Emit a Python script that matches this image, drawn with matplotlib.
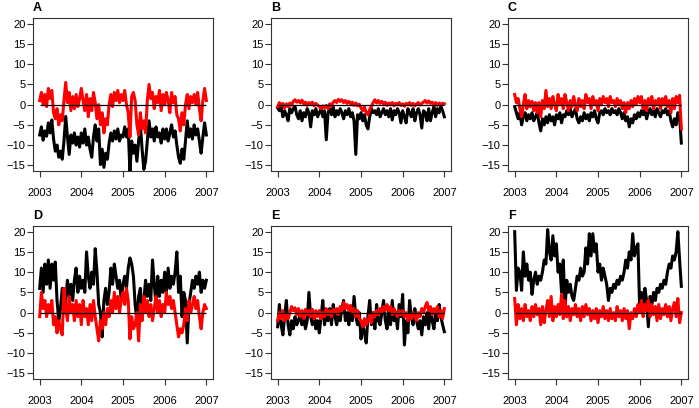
"""Six-panel time series comparison (A-F), black vs red series."""

import numpy as np
import matplotlib
matplotlib.use("Agg")
import matplotlib.pyplot as plt

plt.rcParams["font.family"] = ["Liberation Sans", "DejaVu Sans"]

# half-monthly sample times, 2003 .. 2007
years = np.linspace(2003, 2007, 97)
panel_labels = ["A", "B", "C", "D", "E", "F"]
x_ticks = [2003, 2004, 2005, 2006, 2007]
y_ticks = [-15, -10, -5, 0, 5, 10, 15, 20]

a_black = [-7.5, -5.5, -8.8, -6.5, -7.8, -4.5, -7, -3.8, -8.5, -11.5, -10, -13,
           -11.5, -13.5, -9, -2.9, -8, -12.3, -7.5, -9.5, -7, -10, -8, -10.5,
           -7, -9.5, -6, -10, -8, -11, -13, -8, -5, -9, -6, -14.8,
           -11, -15.5, -12, -13.5, -9.5, -7, -9, -6.5, -8.5, -6, -9, -7.5,
           -8, -5.5, -8, -6, -16.5, -9, -12, -10, -14, -9, -5, -11,
           -16, -14, -9, -4, -8, -6, -9, -5.5, -8, -7, -9.5, -6,
           -8.5, -6, -9, -7, -5, -8, -6.5, -10, -13, -14.5, -11, -13.5,
           -9, -4, -8, -6, -8.5, -5, -7.5, -6, -9, -12, -8, -4.5, -7.5]
a_red = [1, 3, 0, 2.5, -0.5, 4, 1.5, 3.5, -2, -3.5, -1, -5,
         -2.5, -4, 1, 5.5, 0.5, 3, -1.5, 2, -1, 2.5, -0.5, 1.5,
         4, 1, -1.5, 2.5, -3, 1.5, -1.5, 3, 0.5, -3.5, 0, -5,
         -2, -7, -3.5, -5, 0, 2.5, -0.5, 3, 1, 3.5, 0.5, 2.5,
         1, 3.5, 0, -2, -8, 2, 3, 1, -5, -7.5, -2, -6,
         -4, -7, 1, 5, 1.5, 3, -1, 2, 0.5, 3.5, -1.5, 2.5,
         0, 3, 1, -2, 3, 0.5, 2, -2.5, -3.5, -6.5, -2, -5,
         0, 2.5, -1, 2, 0.5, 2.5, 0, 3, -1, -4, 1, 4, 1]

b_black = [-0.8, -1.5, -0.5, -3, -1.5, -2.5, -4, -1, -2, -1, -0.5, -2.5,
           -3.5, -1.5, -4, -2, -3, -1, -2, -5.5, -1.5, -2.5, -1, -3,
           -2, -1, -3, -1.5, -8.7, -2, -1, -2.5, -0.5, -3, -1.5, -2.5,
           -1, -2, -3.5, -1.5, -2.5, -1, -3, -2, -4, -12.3, -2.5, -3.5,
           -2, -4, -2.5, -5, -6, -3, -1, -2, -1.5, -2.5, -1, -3,
           -2, -1, -2.5, -1.5, -3, -1, -3.8, -1.5, -2.5, -1, -2, -4.5,
           -1.5, -3, -4.5, -1, -2, -3, -1, -4, -2, -1, -2.5, -5.8,
           -1.5, -2, -4, -1, -4, -2, -0.5, -3, -1, -2, -0.5, -1.5, -3]
b_red = [-0.5, 0.5, -0.3, 0.3, -0.8, 0.2, -0.5, 0.4, -0.2, 0.8, 1.2, 0.6,
         1, 0.4, 1.1, 0.2, 0.6, -0.2, 0.5, 0.1, 0.6, -0.3, 0.3, -0.1,
         -0.5, -1, -0.3, -0.8, -0.2, -1, 0.2, -0.4, 0.6, 1, 0.5, 1.3,
         0.8, 1.2, 0.5, 1, 0.3, 0.8, 0.2, 0.6, -0.2, 0.4, -0.3, 0.1,
         -0.8, -1.5, -0.6, -2, -2.5, -1.2, -0.4, 0.5, 1.2, 0.4, 1, 0.3,
         0.8, 0.2, 0.6, -0.2, 0.4, 0, 0.5, -0.3, 0.3, 0.1, 0.5, -0.2,
         0.2, -0.4, 0.3, 0, 0.5, -0.2, 0.3, -0.3, 0.2, 0.5, -0.1, 0.3,
         0.6, 1, 0.4, 0.9, 0.3, 0.6, 0, 0.5, -0.2, 0.4, 0, 0.3, 0.2]

c_black = [-0.5, -2, -3.5, -2, -5, -3, -2, -4, -2.5, -3.5, -2, -4,
           -3, -2, -4.5, -6.5, -3.5, -5, -3, -4.5, -2.5, -4, -3, -5,
           -2.5, -3.5, -2, -4.5, -2.5, -3, -1.5, -2.5, -1, -3, -2, -1,
           -3.5, -4.5, -3, -4, -2, -3.5, -2.5, -4, -2, -3, -1.5, -3.5,
           -4.5, -2, -1.5, -2.5, -1, -2, -1.5, -2.5, -1, -2, -1.5, -2.5,
           -1, -2, -3.5, -2, -4, -3, -5.5, -3.5, -4.5, -2.5, -3.5, -2,
           -3, -1.5, -2.5, -1, -3.5, -2, -1, -2.5, -1.5, -3, -1, -2,
           -3, -1.5, -2, -1, -2.5, -1.5, -4, -5.5, -3.5, -5, -2, -3, -9.5]
c_red = [2.5, 0.5, 1.5, -1, -3, 0, 2.5, -1, 1, -0.5, 0.8, -1.5,
         0.5, -2, 0.5, -3, 1, -1, 3.5, -0.5, 1.5, -1, 2, 0,
         -1.5, 2.5, 0, 1.5, -1, 2.5, 0.5, -1.5, 1, -0.5, 2, 0,
         -1.5, 1.5, -0.5, 1, -1, 2.5, 0.5, 1.5, -1, 2, 0, 1,
         -1.5, 1.5, 0, 2, 0.5, 1.5, -0.5, 2, 0.5, 1, -0.5, 1.5,
         0, 1, -1, 0.5, -2, 0.5, -1, 1, -0.5, 1.5, 0, 2,
         0.5, 2, -1, 1, -1.5, 1.5, 0, 2, -1, 1, 0, 1.5,
         -1, 1.5, 0, 2, -0.5, 1, -2, 1.5, -1, 2, 0.5, 2.3, -6]

d_black = [6, 11, 5, 12, 7, 13, 6, 12, 8, 12.5, 3, -2,
           1, 6, 0, 3, 8, 4, 7, 3, 8, 11, 5, 9,
           6, 8, 5, 15, 9, 6, 10, 7, 15.8, 10, 2, 0,
           -6, 3, 6, 2, 5, 11, 7, 12, 9, 6, 8, 3,
           7, 9, 6, 11, 13.5, 12, 9, 2, -2, 4, 6, 0,
           3, 8, 4, 7, 3, 13, 7, 2, 9, 4, 8, 5,
           10, 5, 11, 6, 9, 7, 10, 15, 5, 9, -1, 5,
           3, -7.5, 2, 5, 8, 6, 9, 7, 10, 5, 8, 6, 8]
d_red = [-1, 5, 1, 3, -1, 2, 0, 3, -3, -1, -5, -2,
         -4, -5.5, 6, 1, -2, 4, 0, 2, -2, 3, -1, 2,
         -3, 3, -1, 1, -3, 2, -2, 3, -1, -4, -7, -2,
         -4, 0, -3, 1, -1, 3, 0, 5, 1, 4, 0, 3,
         5, 2, 6, 3, -6.5, -1, -4, -3, 0, -7, 2, -2,
         4, 0, 3, -1, 2, -2, 1, 4, 0, 3, -1, 2,
         0, 5, 2, 4, 1, 3, 0, -3, -6, -4, -5, -3,
         1, -2, 3, 0, 2, 4, 1, 3, -1, -4, 0, 2, 1]

e_black = [-3.5, 2, -3, -5.5, -1, 3, -3, -5.5, -2, -4, -1, -3,
           -2, 0, -3, -1, -4, -2, 5, -1, -3, 0, -4, -2,
           -5, -1, 3, -3, 0, -2, 1, -3, 2, -1, -3, 0,
           -2, 1, 3, -2, 0, -3, 1, -2, 4, -1, -3, 0,
           -6.5, -3, -5, -7.5, -1, 3, -3, 0, -4, 2, -2, -3,
           0, 3, -2, -4, 1, -3, 3, -2, 0, -4, 2, -1,
           4.5, -8, -2, -5, 3, -1, -3, 1, -2, -4, -2, -5.5,
           -1, -3, 0, -4, 1, -2, -4, 0, -2, 2, -1, -3, -4.7]
e_red = [-2, 0, -1.5, 0.5, -2, -0.5, -1.5, 0, 1.5, 0.5, 1.2, -0.5,
         1, -1, 0.5, -1.5, 0.8, -0.5, 0.5, -1, 0.8, -1.5, 0.5, -1,
         0.5, -1.5, 0, -1, 1, -0.5, 0.5, -1, 0.8, 0, 1, -0.5,
         1.5, 0.5, 2.5, 1, 2, 0.5, 1.8, 0, 1, -1, 0.5, -1.5,
         -2, -3.5, -1.5, -3, -2, -0.5, -2.5, 0, -1, 0.5, -0.5, 1,
         0, 1.5, 0.5, 2, 0.5, 1.5, -0.5, 1, 0, -1, 0.5, -0.5,
         0.5, -1, 0, -2, -0.5, -1.5, 0, -1, -2, 0, -1, 1,
         0, 1.5, 2.5, 0.5, 1.5, -0.5, 1, 0, 1.5, -1, 0.5, -1.5, 1]

f_black = [20, 5.5, 11, 10, 5.5, 15, 9, 12, 8, 10, 4.5, 8,
           10, 7, 9, 8, 10, 13, 12, 20.5, 15, 13, 19, 14,
           17, 10, 12, 5, 13, 1, 8, 5, 7, 4, 3, 6,
           9, 8, 11, 9, 10, 16, 12, 19.5, 14, 19.5, 15, 17,
           10, 12, 8, 11, 9, 7, 3, 6, 5, 7, 6, 8,
           7, 9, 8, 10, 13, 11, 15, 13, 19.5, 14, 16, 17,
           1, 5, 2, 6, 3, -3.5, 4, 2, 5, 3, 6, 5,
           7, 6, 8, 7, 10, 12, 11, 14, 13, 15, 20, 13, 6.5]
f_red = [3.5, -3, 2, -1.5, 1, -2, 2, -1, 0.5, -2, 1.5, -1,
         2, -0.5, 1, -3, 1.5, -2.5, 0.5, 3, -1, 4, -2, 1.5,
         -1, 2, -0.5, 4.5, -1.5, 3, -1, 1.5, -2, 1, -0.5, 2,
         -1, 1, -2, 1.5, -1, 2, -0.5, 1, -2, 0.5, -1.5, 1,
         -2.5, 0.5, -1, 1.5, -1.5, 0.5, -2, 1, -1.5, 0, -2, 1.5,
         -1, 0.5, -2, 1, -1.5, 0.5, -4, 0, -1.5, 1, -1, 2,
         0, 3, -1, 2, 0.5, 3, -1, 2, -0.5, 1.5, -2, 2,
         -1.5, 1, -0.5, 2, -1, 1.5, -2, 1, 2.5, -1, 3.5, -2.5, 0]

black_series = [a_black, b_black, c_black, d_black, e_black, f_black]
red_series = [a_red, b_red, c_red, d_red, e_red, f_red]

fig = plt.figure(figsize=(6.99, 4.08), dpi=100)

lefts = [33, 271, 508]
tops = [18, 226]
box_w, box_h = 180, 153
W, H = 699, 408

for k, label in enumerate(panel_labels):
    row, col = divmod(k, 3)
    ax = fig.add_axes([lefts[col] / W, 1 - (tops[row] + box_h) / H,
                       box_w / W, box_h / H])
    ax.plot(years, black_series[k], color="black", lw=2.2, zorder=2)
    ax.plot(years, red_series[k], color="#ff0000", lw=2.2, zorder=3)
    ax.hlines(0, years[0], years[-1], color="black", lw=0.9, zorder=4)

    ax.set_xlim(2003 - 0.16, 2007 + 0.16)
    ax.set_ylim(-15 - 1.4, 20 + 1.4)
    ax.set_xticks(x_ticks)
    ax.set_yticks(y_ticks)
    ax.tick_params(axis="both", direction="out", length=4, width=0.8,
                   labelsize=8, color="#333333")
    ax.tick_params(axis="x", pad=8)
    ax.tick_params(axis="y", pad=1.5)
    for sp in ax.spines.values():
        sp.set_linewidth(0.8)
        sp.set_color("#333333")
    ax.text(0.0, 1.025, label, transform=ax.transAxes, ha="left",
            va="bottom", fontsize=9, fontweight="bold")

fig.savefig("out.png", dpi=100)
